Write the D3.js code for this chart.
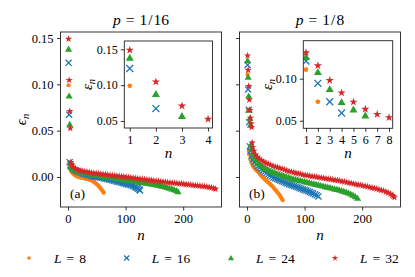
<!DOCTYPE html>
<html><head><meta charset="utf-8">
<script src="https://cdn.jsdelivr.net/npm/d3@7"></script>
<style>
body{margin:0;background:#fff}
svg{display:block}
</style>
</head><body>
<svg id="c" width="415" height="277" font-family="Liberation Serif"></svg>
<script>
// ---------------- data ----------------
const sizes = [8, 16, 24, 32];
const titles = ["1/16", "1/8"];
const panelTags = ["(a)", "(b)"];
const mainXTicks = [0, 100, 200];
const mainYTicks = [0.00, 0.05, 0.10, 0.15];
const insetAXTicks = [1, 2, 3, 4];
const insetAYTicks = [0.05, 0.10, 0.15];
const insetBXTicks = [1, 2, 3, 4, 5, 6, 7, 8];
const insetBYTicks = [0.05, 0.10];

// p = 1/16  : [n, eps_n]
const a8 = [[1,0.0990],[2,0.0160],[3,0.0120],[5,0.0080],[7,0.0052],[9,0.0036],[11,0.0024],[13,0.0017],[15,0.0010],[17,0.0003],[19,-0.0001],[21,-0.0004],[23,-0.0007],[25,-0.0010],[27,-0.0013],[29,-0.0016],[31,-0.0019],[33,-0.0021],[35,-0.0025],[37,-0.0028],[39,-0.0032],[41,-0.0038],[43,-0.0045],[45,-0.0053],[47,-0.0063],[49,-0.0073],[51,-0.0085],[53,-0.0097],[55,-0.0110],[57,-0.0125],[59,-0.0142],[61,-0.0160],[62,-0.0170]];
const a16 = [[1,0.1232],[2,0.0673],[3,0.0160],[5,0.0120],[8,0.0090],[11,0.0075],[14,0.0066],[17,0.0058],[20,0.0050],[23,0.0044],[26,0.0038],[29,0.0032],[32,0.0028],[35,0.0022],[38,0.0016],[41,0.0010],[44,0.0006],[47,0.0003],[50,0.0000],[53,-0.0003],[56,-0.0006],[59,-0.0009],[62,-0.0013],[65,-0.0018],[68,-0.0022],[71,-0.0027],[74,-0.0031],[77,-0.0036],[80,-0.0040],[83,-0.0045],[86,-0.0050],[89,-0.0055],[92,-0.0060],[95,-0.0065],[98,-0.0070],[101,-0.0075],[104,-0.0080],[107,-0.0085],[110,-0.0090],[113,-0.0097],[116,-0.0104],[118,-0.0110],[120,-0.0118],[122,-0.0126],[124,-0.0136],[125,-0.0145]];
const a24 = [[1,0.1380],[2,0.0874],[3,0.0567],[4,0.0120],[6,0.0100],[8,0.0090],[12,0.0076],[16,0.0068],[20,0.0060],[24,0.0054],[28,0.0048],[32,0.0042],[36,0.0036],[40,0.0030],[44,0.0026],[48,0.0022],[52,0.0018],[56,0.0014],[60,0.0010],[64,0.0006],[68,0.0002],[72,-0.0002],[76,-0.0006],[80,-0.0010],[84,-0.0014],[88,-0.0018],[92,-0.0022],[96,-0.0026],[100,-0.0030],[104,-0.0034],[108,-0.0038],[112,-0.0042],[116,-0.0046],[120,-0.0050],[124,-0.0054],[128,-0.0058],[132,-0.0062],[136,-0.0066],[140,-0.0070],[144,-0.0074],[148,-0.0078],[152,-0.0082],[156,-0.0088],[160,-0.0094],[164,-0.0100],[168,-0.0106],[172,-0.0113],[176,-0.0120],[180,-0.0128],[184,-0.0136],[188,-0.0146],[191,-0.0158]];
const a32 = [[1,0.1490],[2,0.1046],[3,0.0710],[4,0.0525],[5,0.0160],[7,0.0130],[9,0.0108],[13,0.0088],[17,0.0076],[21,0.0069],[25,0.0063],[29,0.0058],[33,0.0054],[37,0.0049],[41,0.0044],[45,0.0041],[49,0.0038],[53,0.0035],[57,0.0032],[61,0.0029],[65,0.0026],[69,0.0023],[73,0.0020],[77,0.0017],[81,0.0014],[85,0.0011],[89,0.0008],[93,0.0005],[97,0.0002],[101,-0.0001],[105,-0.0004],[109,-0.0007],[113,-0.0010],[117,-0.0014],[121,-0.0017],[125,-0.0020],[129,-0.0023],[133,-0.0026],[137,-0.0030],[141,-0.0033],[145,-0.0036],[149,-0.0039],[153,-0.0042],[157,-0.0046],[161,-0.0049],[165,-0.0052],[169,-0.0055],[173,-0.0058],[177,-0.0061],[181,-0.0064],[185,-0.0066],[189,-0.0068],[193,-0.0071],[197,-0.0073],[201,-0.0076],[205,-0.0079],[209,-0.0082],[213,-0.0085],[217,-0.0088],[221,-0.0091],[225,-0.0094],[229,-0.0096],[233,-0.0099],[237,-0.0102],[241,-0.0106],[245,-0.0110],[249,-0.0116],[253,-0.0122],[256,-0.0130]];

// p = 1/8  : [n, eps_n]
const b8 = [[1,0.1107],[2,0.0726],[3,0.0280],[4,0.0240],[6,0.0190],[8,0.0150],[10,0.0120],[12,0.0102],[14,0.0088],[16,0.0075],[18,0.0062],[20,0.0050],[22,0.0034],[24,0.0018],[26,0.0004],[28,-0.0008],[30,-0.0020],[32,-0.0032],[34,-0.0044],[36,-0.0055],[38,-0.0065],[40,-0.0075],[42,-0.0088],[44,-0.0100],[46,-0.0115],[48,-0.0130],[50,-0.0145],[52,-0.0160],[54,-0.0175],[56,-0.0190],[58,-0.0210],[60,-0.0230],[62,-0.0250]];
const b16 = [[1,0.1210],[2,0.0945],[3,0.0726],[4,0.0592],[5,0.0330],[6,0.0280],[8,0.0230],[10,0.0190],[13,0.0160],[16,0.0137],[19,0.0117],[22,0.0100],[25,0.0085],[28,0.0070],[31,0.0056],[34,0.0042],[37,0.0029],[40,0.0016],[43,0.0004],[46,-0.0006],[49,-0.0014],[52,-0.0022],[55,-0.0030],[58,-0.0038],[61,-0.0046],[64,-0.0054],[67,-0.0062],[70,-0.0070],[73,-0.0077],[76,-0.0084],[79,-0.0091],[82,-0.0098],[85,-0.0105],[88,-0.0112],[91,-0.0119],[94,-0.0126],[97,-0.0133],[100,-0.0140],[103,-0.0147],[106,-0.0155],[109,-0.0162],[112,-0.0170],[115,-0.0178],[118,-0.0188],[121,-0.0198],[124,-0.0210]];
const b24 = [[1,0.1255],[2,0.1076],[3,0.0874],[4,0.0720],[5,0.0632],[6,0.0560],[7,0.0350],[8,0.0310],[10,0.0260],[13,0.0215],[16,0.0185],[20,0.0150],[24,0.0130],[28,0.0110],[32,0.0093],[36,0.0080],[40,0.0067],[44,0.0055],[48,0.0046],[52,0.0037],[56,0.0029],[60,0.0020],[64,0.0012],[68,0.0004],[72,-0.0004],[76,-0.0012],[80,-0.0020],[84,-0.0026],[88,-0.0032],[92,-0.0038],[96,-0.0044],[100,-0.0050],[104,-0.0056],[108,-0.0062],[112,-0.0068],[116,-0.0074],[120,-0.0080],[124,-0.0086],[128,-0.0092],[132,-0.0098],[136,-0.0104],[140,-0.0110],[144,-0.0116],[148,-0.0122],[152,-0.0128],[156,-0.0134],[160,-0.0140],[164,-0.0148],[168,-0.0156],[172,-0.0164],[176,-0.0172],[180,-0.0184],[184,-0.0197],[188,-0.0212],[192,-0.0230]];
const b32 = [[1,0.1310],[2,0.1155],[3,0.0980],[4,0.0833],[5,0.0723],[6,0.0637],[7,0.0577],[8,0.0538],[9,0.0370],[10,0.0320],[12,0.0280],[15,0.0240],[18,0.0215],[21,0.0196],[25,0.0180],[29,0.0164],[33,0.0151],[37,0.0140],[41,0.0129],[45,0.0118],[49,0.0110],[53,0.0103],[57,0.0096],[61,0.0088],[65,0.0078],[69,0.0069],[73,0.0061],[77,0.0055],[81,0.0049],[85,0.0043],[89,0.0037],[93,0.0031],[97,0.0025],[101,0.0019],[105,0.0015],[109,0.0011],[113,0.0007],[117,0.0003],[121,0.0000],[125,-0.0004],[129,-0.0009],[133,-0.0013],[137,-0.0017],[141,-0.0021],[145,-0.0025],[149,-0.0029],[153,-0.0033],[157,-0.0037],[161,-0.0041],[165,-0.0047],[169,-0.0052],[173,-0.0058],[177,-0.0063],[181,-0.0068],[185,-0.0074],[189,-0.0079],[193,-0.0084],[197,-0.0088],[201,-0.0093],[205,-0.0098],[209,-0.0104],[213,-0.0110],[217,-0.0116],[221,-0.0122],[225,-0.0128],[229,-0.0134],[233,-0.0142],[237,-0.0150],[241,-0.0160],[245,-0.0170],[249,-0.0183],[252,-0.0198],[254,-0.0208],[256,-0.0220]];

// ---------------- drawing ----------------
const FONT = "'Liberation Serif'";
const colors = {8:"#ff7f0e", 16:"#1f77b4", 24:"#2ca02c", 32:"#d62728"};
const svg = d3.select("#c");

function drawMarker(g, L, x, y, k) {
  const c = colors[L];
  if (L === 8) {
    g.append("circle").attr("cx", x).attr("cy", y).attr("r", 2.1 * k).attr("fill", c);
  } else if (L === 16) {
    g.append("path").attr("transform", `translate(${x},${y})`)
      .attr("d", d3.symbol(d3.symbolTimes, 26 * k * k)())
      .attr("fill", "none").attr("stroke", c).attr("stroke-width", 1.3);
  } else if (L === 24) {
    g.append("path").attr("transform", `translate(${x},${y + 0.5})`)
      .attr("d", d3.symbol(d3.symbolTriangle, 22 * k * k)())
      .attr("fill", c);
  } else {
    g.append("path").attr("transform", `translate(${x},${y})`)
      .attr("d", d3.symbol(d3.symbolStar, 17 * k * k)())
      .attr("fill", c);
  }
}

function txt(g) {
  return g.append("text").style("font-family", FONT).attr("fill", "#000");
}

const mathText = (sel, parts) => {
  parts.forEach(p => {
    const t = sel.append("tspan").text(p.t);
    if (p.i) t.attr("font-style", "italic");
    if (p.dx) t.attr("dx", p.dx);
    if (p.dy) t.attr("dy", p.dy);
    if (p.fs) t.attr("font-size", p.fs);
  });
};

function epsLabel(g, x, y, ch, fs) {
  const t = txt(g).attr("transform", `translate(${x},${y}) rotate(-90)`)
    .attr("text-anchor", "middle").attr("font-size", fs);
  mathText(t, [{t: ch, i: true}, {t: "n", i: true, fs: fs * 0.7, dy: fs * 0.22}]);
}

const yMain = d3.scaleLinear().domain([-0.0324, 0.1565]).range([207, 32]);

const panels = [
  {x0: 60.5, x1: 221.5, series: [a8, a16, a24, a32],
   inset: {x0: 124.3, x1: 212.5, y0: 41, y1: 128, xd: [0.79, 4.17], yd: [0.0402, 0.1616], xt: insetAXTicks, yt: insetAYTicks, lx: 92}},
  {x0: 239.5, x1: 400.5, series: [b8, b16, b24, b32],
   inset: {x0: 303.3, x1: 392.7, y0: 40.7, y1: 128.3, xd: [0.77, 8.31], yd: [0.041, 0.1452], xt: insetBXTicks, yt: insetBYTicks, lx: 272}}
];

function styleAxis(g, fs) {
  g.attr("font-family", null).style("font-family", FONT);
  g.select(".domain").remove();
  g.selectAll(".tick line").attr("stroke", "#000").attr("stroke-width", 0.8);
  g.selectAll(".tick text").attr("fill", "#000")
    .style("font-family", FONT).style("font-size", fs + "px");
}

panels.forEach((P, pi) => {
  const x = d3.scaleLinear().domain([-13, 266.5]).range([P.x0, P.x1]);
  const g = svg.append("g");
  const clipId = "clip" + pi;
  svg.append("clipPath").attr("id", clipId).append("rect")
    .attr("x", P.x0).attr("y", 32).attr("width", P.x1 - P.x0).attr("height", 175);
  const marks = g.append("g").attr("clip-path", `url(#${clipId})`);
  P.series.forEach((s, si) => {
    const L = sizes[si];
    s.forEach(d => drawMarker(marks, L, x(d[0]), yMain(d[1]), 1));
  });
  g.append("rect").attr("x", P.x0).attr("y", 32).attr("width", P.x1 - P.x0).attr("height", 175)
    .attr("fill", "none").attr("stroke", "#222").attr("stroke-width", 0.9);
  const ax = g.append("g").attr("transform", "translate(0,207)")
    .call(d3.axisBottom(x).tickValues(mainXTicks).tickSize(3.5).tickPadding(3.5).tickFormat(d3.format("d")));
  styleAxis(ax, 12.5);
  const ay = g.append("g").attr("transform", `translate(${P.x0},0)`)
    .call(d3.axisLeft(yMain).tickValues(mainYTicks).tickSize(3.5).tickPadding(3.5)
      .tickFormat(pi === 0 ? d3.format(".2f") : () => ""));
  styleAxis(ay, 12.5);
  const cx = (P.x0 + P.x1) / 2;
  const tt = txt(g).attr("x", cx).attr("y", 25).attr("text-anchor", "middle").attr("font-size", 15.5);
  const fr = titles[pi].split("/");
  mathText(tt, [{t: "p", i: true}, {t: "=", dx: 5}, {t: fr[0], dx: 5}, {t: "/", dx: 1}, {t: fr[1], dx: 1}]);
  txt(g).attr("x", cx).attr("y", 239.5).attr("text-anchor", "middle")
    .attr("font-size", 15).attr("font-style", "italic").text("n");
  txt(g).attr("x", P.x0 + 9.5).attr("y", 197.5).attr("font-size", 13.5).text(panelTags[pi]);

  // inset
  const I = P.inset;
  const xi = d3.scaleLinear().domain(I.xd).range([I.x0, I.x1]);
  const yi = d3.scaleLinear().domain(I.yd).range([I.y1, I.y0]);
  const gi = svg.append("g");
  gi.append("rect").attr("x", I.x0).attr("y", I.y0).attr("width", I.x1 - I.x0).attr("height", I.y1 - I.y0)
    .attr("fill", "#fff");
  const iclip = "iclip" + pi;
  svg.append("clipPath").attr("id", iclip).append("rect")
    .attr("x", I.x0).attr("y", I.y0).attr("width", I.x1 - I.x0).attr("height", I.y1 - I.y0);
  const im = gi.append("g").attr("clip-path", `url(#${iclip})`);
  P.series.forEach((s, si) => {
    const L = sizes[si];
    s.filter(d => d[0] <= I.xd[1] + 0.3).forEach(d => drawMarker(im, L, xi(d[0]), yi(d[1]), 1.12));
  });
  gi.append("rect").attr("x", I.x0).attr("y", I.y0).attr("width", I.x1 - I.x0).attr("height", I.y1 - I.y0)
    .attr("fill", "none").attr("stroke", "#222").attr("stroke-width", 0.9);
  const ixa = gi.append("g").attr("transform", `translate(0,${I.y1})`)
    .call(d3.axisBottom(xi).tickValues(I.xt).tickSize(3.5).tickPadding(3.5).tickFormat(d3.format("d")));
  styleAxis(ixa, 12);
  const iya = gi.append("g").attr("transform", `translate(${I.x0},0)`)
    .call(d3.axisLeft(yi).tickValues(I.yt).tickSize(3.5).tickPadding(3).tickFormat(d3.format(".2f")));
  styleAxis(iya, 12);
  txt(gi).attr("x", (I.x0 + I.x1) / 2).attr("y", 157.5).attr("text-anchor", "middle")
    .attr("font-size", 15).attr("font-style", "italic").text("n");
  epsLabel(gi, I.lx, (I.y0 + I.y1) / 2, "\u03B5", 15);
});

epsLabel(svg, 25.5, 119.5, "\u03F5", 15);

// legend
const legX = [29, 126.7, 231, 335];
const legG = svg.append("g");
sizes.forEach((L, i) => {
  drawMarker(legG, L, legX[i], 258, 0.85);
  const t = txt(legG).attr("x", legX[i] + 25).attr("y", 262.5).attr("font-size", 13.5);
  mathText(t, [{t: "L", i: true}, {t: "=", dx: 5}, {t: String(L), dx: 5}]);
});
</script>
</body></html>
